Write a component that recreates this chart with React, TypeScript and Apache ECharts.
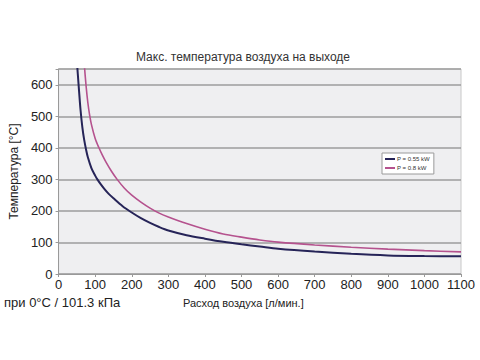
import React, { useEffect, useRef } from "react";
import * as echarts from "echarts";

const titleText = "Макс. температура воздуха на выходе";
const yAxisName = "Температура [°C]";
const xAxisName = "Расход воздуха [л/мин.]";
const conditionText = "при 0°C / 101.3 кПа";
const seriesNames = ["P = 0.55 kW", "P = 0.8 kW"];

const navyData: [number, number][] = [
  [45, 760], [50, 675], [55, 595], [60, 520], [65, 465], [70, 425], [75, 395], [80, 370],
  [90, 335], [100, 312], [106, 300], [115, 285], [125, 270], [137, 254], [150, 240],
  [175, 215], [200, 195], [225, 177], [250, 162], [275, 149], [300, 138], [350, 123],
  [400, 112], [450, 102], [500, 94], [550, 87], [600, 80], [700, 71], [800, 64],
  [900, 59], [1000, 57], [1100, 56],
];

const pinkData: [number, number][] = [
  [68, 700], [70, 668], [75, 598], [80, 543], [85, 503], [90, 473], [100, 430], [110, 401],
  [120, 376], [130, 354], [145, 325], [160, 300], [180, 272], [200, 250], [225, 228],
  [250, 209], [275, 193], [300, 181], [350, 160], [400, 142], [450, 127], [500, 117],
  [550, 108], [600, 101], [700, 92], [800, 85], [900, 79], [1000, 74], [1100, 70],
];

const xMin = 0;
const xMax = 1100;
const xInterval = 100;
const yMin = 0;
const yMax = 650;
const yInterval = 100;

export default function App() {
  const ref = useRef<HTMLDivElement>(null);
  useEffect(() => {
    if (!ref.current) return;
    const chart = echarts.init(ref.current, null, { renderer: "svg" });
    const font = "'Liberation Sans', Arial, sans-serif";
    chart.setOption({
      animation: false,
      backgroundColor: "#ffffff",
      textStyle: { fontFamily: font },
      title: {
        text: titleText,
        left: 238,
        top: 46,
        textAlign: "center",
        textStyle: { fontSize: 12, fontWeight: "normal", color: "#333", fontFamily: font },
      },
      grid: {
        left: 52,
        right: 19,
        top: 69,
        bottom: 86,
        show: true,
        backgroundColor: "#efeff1",
        borderColor: "#c8c8c8",
        borderWidth: 1,
      },
      legend: {
        orient: "vertical",
        left: 382,
        top: 153,
        itemWidth: 10,
        itemHeight: 2,
        itemGap: 3,
        padding: [3, 4, 3, 3],
        backgroundColor: "#ffffff",
        borderColor: "#9a9a9a",
        borderWidth: 1,
        icon: "rect",
        textStyle: { fontSize: 6, color: "#333", fontFamily: font, padding: [0, 0, 0, -3] },
        data: seriesNames,
      },
      xAxis: {
        type: "value",
        min: xMin,
        max: xMax,
        interval: xInterval,
        axisLine: { show: true, lineStyle: { color: "#999", width: 1 } },
        axisTick: { show: true, length: 3, lineStyle: { color: "#999" } },
        axisLabel: {
          fontSize: 13,
          color: "#222",
          margin: 4,
          fontFamily: font,
          formatter: (v: number) => String(v),
        },
        splitLine: { show: false },
      },
      yAxis: {
        type: "value",
        min: yMin,
        max: yMax,
        interval: yInterval,
        name: yAxisName,
        nameLocation: "middle",
        nameGap: 32,
        nameTextStyle: { fontSize: 12, color: "#222", fontFamily: font },
        axisLine: { show: true, lineStyle: { color: "#999", width: 1 } },
        axisTick: { show: true, length: 3, lineStyle: { color: "#999" } },
        axisLabel: {
          fontSize: 13,
          color: "#222",
          margin: 6,
          fontFamily: font,
          formatter: (v: number) => (v % 100 === 0 ? String(v) : ""),
        },
        splitLine: { show: true, lineStyle: { color: "#9c9c9c", width: 1.5 } },
      },
      series: [
        {
          name: seriesNames[0],
          type: "line",
          data: navyData,
          smooth: 0.3,
          showSymbol: false,
          clip: true,
          lineStyle: { color: "#262458", width: 2 },
          itemStyle: { color: "#262458" },
        },
        {
          name: seriesNames[1],
          type: "line",
          data: pinkData,
          smooth: 0.3,
          showSymbol: false,
          clip: true,
          lineStyle: { color: "#b5528e", width: 1.6 },
          itemStyle: { color: "#b5528e" },
        },
      ],
      graphic: [
        {
          type: "text",
          left: 4,
          top: 296,
          style: { text: conditionText, fontSize: 13, fill: "#222", fontFamily: font },
        },
        {
          type: "text",
          left: 183,
          top: 297,
          style: { text: xAxisName, fontSize: 11, fill: "#222", fontFamily: font },
        },
      ],
    });
    return () => chart.dispose();
  }, []);
  return <div ref={ref} style={{ width: 480, height: 360, position: "absolute", left: 0, top: 0 }} />;
}
